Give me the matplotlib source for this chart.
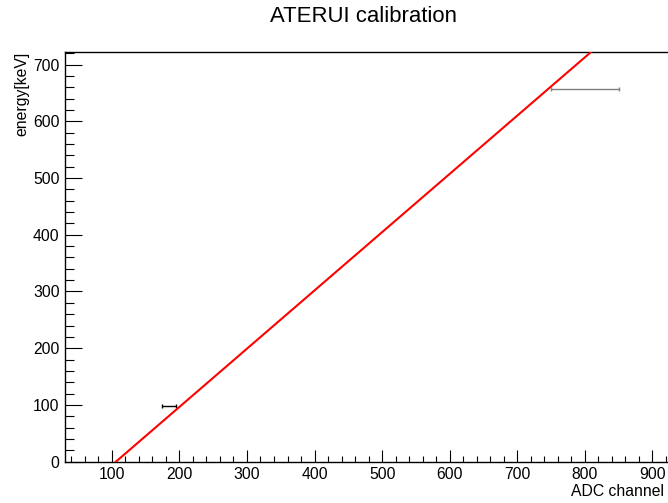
import numpy as np
import matplotlib
matplotlib.use("Agg")
import matplotlib.pyplot as plt
from matplotlib.ticker import MultipleLocator

plt.rcParams['font.family'] = ['Liberation Sans', 'DejaVu Sans']

# calibration points (ADC channel vs energy)
adc = [185, 800]
adc_err = [10, 50]
energy = [98, 657]
bar_colors = ['black', 'gray']

# linear fit: energy = p0 + p1 * adc
p0 = -108.9
p1 = 1.027

W, H = 668, 503
fig = plt.figure(figsize=(W / 100, H / 100), dpi=100)
# frame runs past the right edge of the picture (cropped canvas)
left, right, top, bottom = 64.5, 720, 51.5, 461.7
ax = fig.add_axes([left / W, 1 - bottom / H, (right - left) / W, (bottom - top) / H])

for x, xe, y, c in zip(adc, adc_err, energy, bar_colors):
    ax.errorbar(x, y, xerr=xe, fmt='none', ecolor=c, elinewidth=1.0,
                capsize=1.2, capthick=1.0, zorder=2)

xs = np.array([0, 1000])
ax.plot(xs, p0 + p1 * xs, color='#ff0000', lw=1.5, zorder=3)

ax.set_xlim(30, 1000)
ax.set_ylim(0, 723)

ax.set_xticks([100, 200, 300, 400, 500, 600, 700, 800, 900])
ax.xaxis.set_minor_locator(MultipleLocator(20))
ax.yaxis.set_major_locator(MultipleLocator(100))
ax.yaxis.set_minor_locator(MultipleLocator(20))

for s in ax.spines.values():
    s.set_linewidth(1.0)
ax.spines['right'].set_visible(False)

ax.tick_params(axis='x', which='major', direction='in', length=8.8, width=0.8,
               labelsize=11.3, pad=3.8)
ax.tick_params(axis='x', which='minor', direction='in', length=4.2, width=0.8)
ax.tick_params(axis='y', which='major', direction='in', length=12.2, width=0.8,
               labelsize=11.3, pad=3.5)
ax.tick_params(axis='y', which='minor', direction='in', length=6.4, width=0.8)

fig.text(664 / W, 1 - 491.5 / H, 'ADC channel', ha='right', va='center', fontsize=11.3)
fig.text(22 / W, 1 - 52 / H, 'energy[keV]', ha='center', va='top',
         rotation=90, fontsize=11.3)
fig.text(364 / W, 1 - 17 / H, 'ATERUI calibration', ha='center', va='center', fontsize=15.9)

fig.savefig('out.png', dpi=100)
